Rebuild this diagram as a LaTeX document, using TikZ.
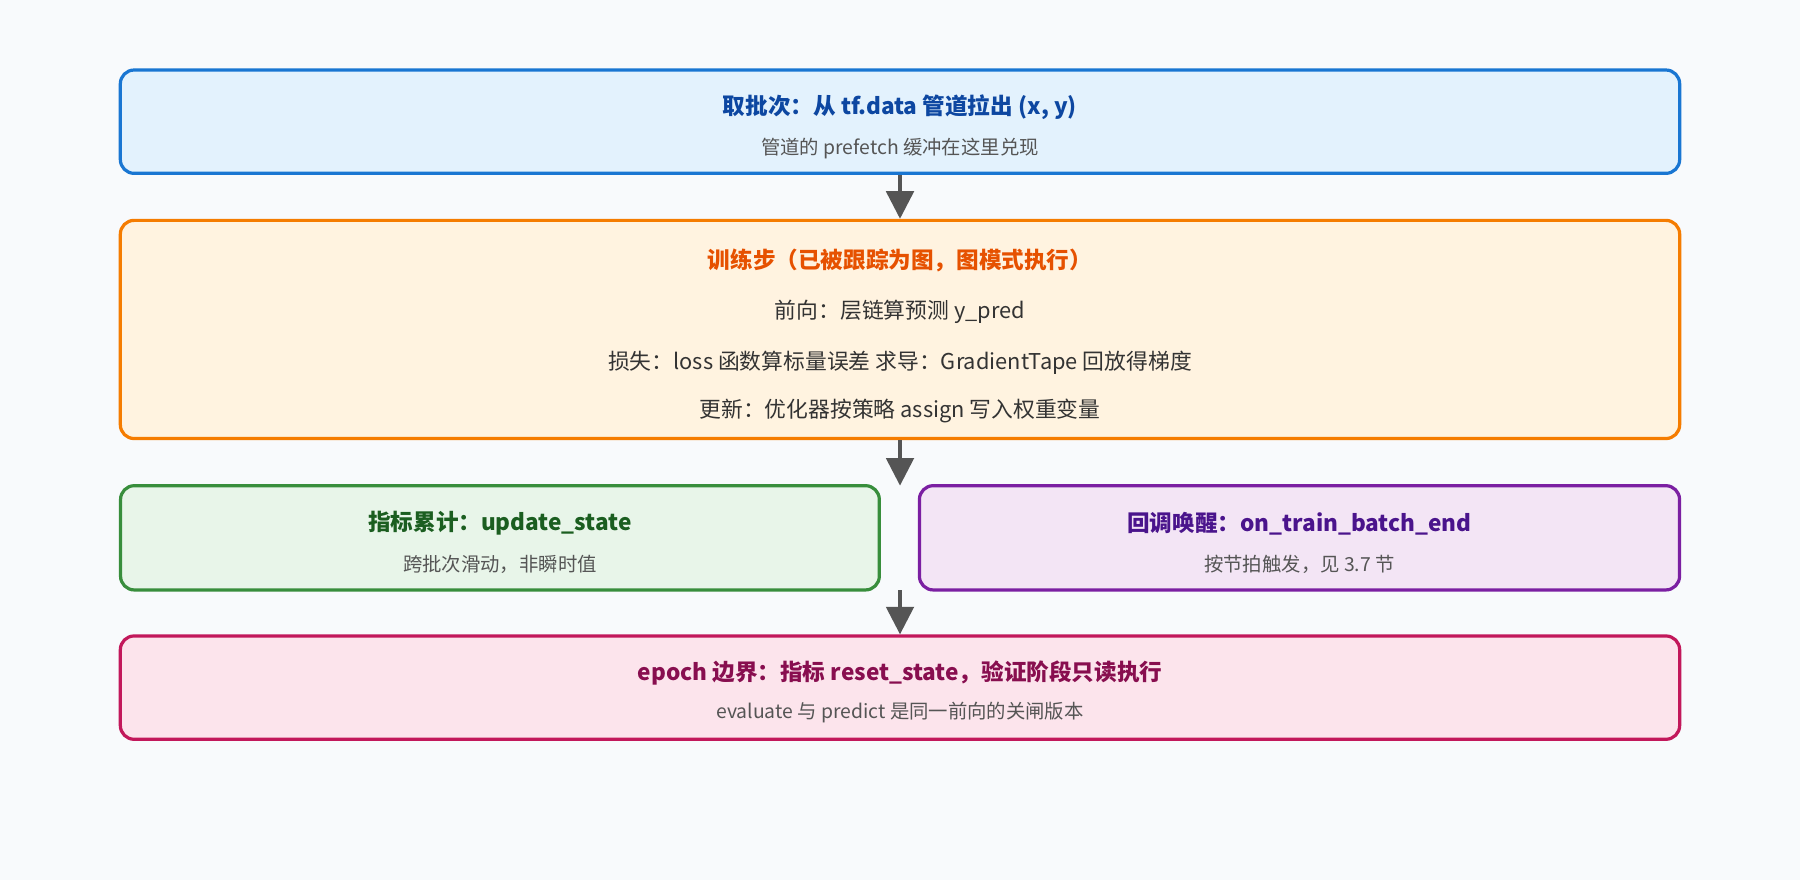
\documentclass[tikz,border=0pt]{standalone}
\usepackage{fontspec}
\setmainfont{Noto Sans CJK SC}
\usetikzlibrary{arrows.meta, positioning}
\definecolor{bgc}{HTML}{F8FAFC}
\definecolor{subc}{HTML}{555555}
\definecolor{arrc}{HTML}{555555}
\definecolor{fillA}{HTML}{E3F2FD}\definecolor{lineA}{HTML}{1976D2}\definecolor{textA}{HTML}{0D47A1}
\definecolor{fillB}{HTML}{FFF3E0}\definecolor{lineB}{HTML}{F57C00}\definecolor{textB}{HTML}{E65100}
\definecolor{fillC}{HTML}{E8F5E9}\definecolor{lineC}{HTML}{388E3C}\definecolor{textC}{HTML}{1B5E20}
\definecolor{fillD}{HTML}{F3E5F5}\definecolor{lineD}{HTML}{7B1FA2}\definecolor{textD}{HTML}{4A148C}
\definecolor{fillE}{HTML}{FCE4EC}\definecolor{lineE}{HTML}{C2185B}\definecolor{textE}{HTML}{880E4F}
\tikzset{
  stage/.style={draw, rounded corners=0.3cm, line width=0.07cm, inner sep=0pt},
  title/.style={font=\fontsize{14}{16}\selectfont\bfseries, inner sep=0pt},
  sub/.style={font=\fontsize{12}{14}\selectfont, text=subc, inner sep=0pt},
  body/.style={font=\fontsize{13.5}{16}\selectfont, text=black!80, inner sep=0pt},
  flow/.style={draw=arrc, line width=0.075cm, -{Triangle[width=0.6cm,length=0.6cm]}}
}
\begin{document}
\begin{tikzpicture}[x=0.025cm, y=-0.025cm]
  \fill[bgc] (0,0) rectangle (1568,767);
  % stages
  \node[stage, fill=fillA, draw=lineA, minimum width=33.95cm, minimum height=2.25cm] (fetch) at (784,106) {};
  \node[stage, fill=fillB, draw=lineB, minimum width=33.95cm, minimum height=4.75cm] (step) at (784,287) {};
  \node[stage, fill=fillC, draw=lineC, minimum width=16.52cm, minimum height=2.27cm] (metric) at (435.5,468.5) {};
  \node[stage, fill=fillD, draw=lineD, minimum width=16.55cm, minimum height=2.27cm] (callback) at (1132,468.5) {};
  \node[stage, fill=fillE, draw=lineE, minimum width=33.95cm, minimum height=2.25cm] (epoch) at (784,599) {};
  % texts
  \node[title, text=textA] (fetchT) at (784,93) {取批次：从 tf.data 管道拉出 (x, y)};
  \node[sub] (fetchS) at (784,129) {管道的 prefetch 缓冲在这里兑现};
  \node[title, text=textB] (stepT) at (784,227) {训练步（已被跟踪为图，图模式执行）};
  \node[body] (stepA) at (784,272) {前向：层链算预测 y\_pred};
  \node[body] (stepB) at (784,316) {损失：loss 函数算标量误差 求导：GradientTape 回放得梯度};
  \node[body] (stepC) at (784,358) {更新：优化器按策略 assign 写入权重变量};
  \node[title, text=textC] (metricT) at (435.5,456) {指标累计：update\_state};
  \node[sub] (metricS) at (435.5,492) {跨批次滑动，非瞬时值};
  \node[title, text=textD] (callbackT) at (1132,456) {回调唤醒：on\_train\_batch\_end};
  \node[sub] (callbackS) at (1132,492) {按节拍触发，见 3.7 节};
  \node[title, text=textE] (epochT) at (784,586) {epoch 边界：指标 reset\_state，验证阶段只读执行};
  \node[sub] (epochS) at (784,621) {evaluate 与 predict 是同一前向的关闸版本};
  % arrows
  \coordinate (midTop) at (784,423);
  \coordinate (midBot) at (784,514);
  \draw[flow] (fetch.south) -- (step.north);
  \draw[flow] (step.south) -- (midTop);
  \draw[flow] (midBot) -- (epoch.north);
\end{tikzpicture}
\end{document}
